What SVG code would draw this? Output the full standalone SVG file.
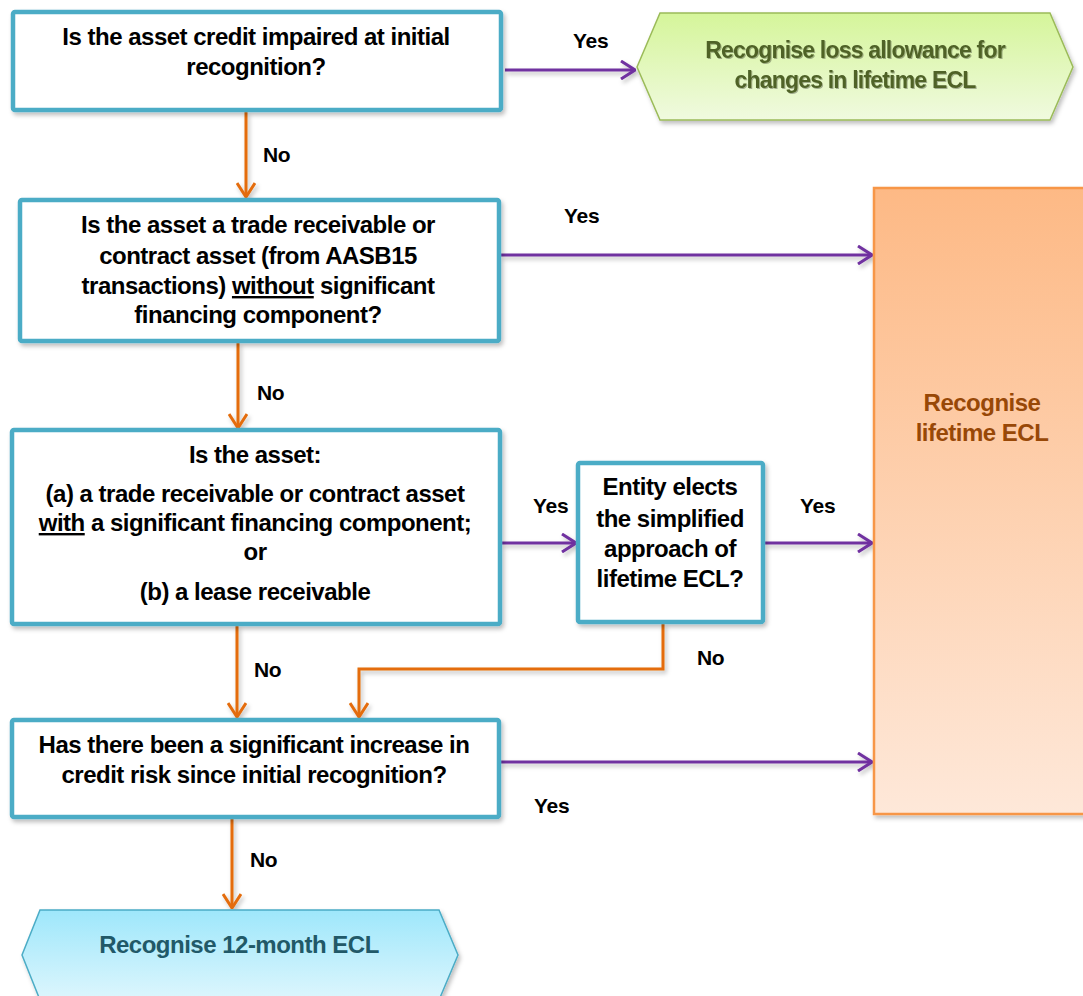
<svg xmlns="http://www.w3.org/2000/svg" width="1083" height="996" viewBox="0 0 1083 996">
<defs>
<style>
.q{fill:#fff;stroke:#4BACC6;stroke-width:4.5}
.t{font-family:"Liberation Sans",Arial,sans-serif;font-weight:bold;font-size:24px;letter-spacing:-0.5px;fill:#000;text-anchor:middle}
.g{font-size:23px;letter-spacing:-0.8px;fill:#4F6228}
.l{font-family:"Liberation Sans",Arial,sans-serif;font-weight:bold;font-size:21px;letter-spacing:-0.3px;fill:#000}
.y{fill:none;stroke:#7030A0;stroke-width:3}
.n{fill:none;stroke:#E46C0A;stroke-width:3}
</style>
<marker id="ap" viewBox="0 0 16 20" refX="15" refY="10" markerWidth="16" markerHeight="20" markerUnits="userSpaceOnUse" orient="auto"><path d="M1,1 L15,10 L1,19" fill="none" stroke="#7030A0" stroke-width="3"/></marker>
<marker id="ao" viewBox="0 0 16 20" refX="15" refY="10" markerWidth="16" markerHeight="20" markerUnits="userSpaceOnUse" orient="auto"><path d="M1,1 L15,10 L1,19" fill="none" stroke="#E46C0A" stroke-width="3"/></marker>
<filter id="sh" x="-10%" y="-10%" width="130%" height="130%"><feDropShadow dx="2" dy="3" stdDeviation="2" flood-color="#000" flood-opacity="0.25"/></filter>
<filter id="ts" x="-5%" y="-20%" width="110%" height="150%"><feDropShadow dx="1" dy="1" stdDeviation="0.6" flood-color="#000" flood-opacity="0.3"/></filter>
<linearGradient id="gO" x1="0" y1="0" x2="0" y2="1"><stop offset="0" stop-color="#FDB985"/><stop offset="1" stop-color="#FEE8D9"/></linearGradient>
<linearGradient id="gG" x1="0" y1="0" x2="0" y2="1"><stop offset="0" stop-color="#D5F59A"/><stop offset="1" stop-color="#F0FADF"/></linearGradient>
<linearGradient id="gB" x1="0" y1="0" x2="0" y2="1"><stop offset="0" stop-color="#9EE7FB"/><stop offset="1" stop-color="#DDF6FD"/></linearGradient>
</defs>

<g id="connectors" filter="url(#sh)">
<path class="y" d="M505,70 H635" marker-end="url(#ap)"/>
<path class="n" d="M246,112 V197" marker-end="url(#ao)"/>
<path class="y" d="M501,255 H872" marker-end="url(#ap)"/>
<path class="n" d="M238,343 V428" marker-end="url(#ao)"/>
<path class="y" d="M502,543 H576" marker-end="url(#ap)"/>
<path class="y" d="M765,543 H872" marker-end="url(#ap)"/>
<path class="n" d="M237,626 V717" marker-end="url(#ao)"/>
<path class="n" d="M663,624 V669 H359 V717" marker-end="url(#ao)"/>
<path class="y" d="M501,762 H872" marker-end="url(#ap)"/>
<path class="n" d="M232,819 V908" marker-end="url(#ao)"/>
</g>
<g id="labels">
<text class="l" x="573" y="48">Yes</text>
<text class="l" x="263" y="162">No</text>
<text class="l" x="564" y="223">Yes</text>
<text class="l" x="257" y="400">No</text>
<text class="l" x="533" y="513">Yes</text>
<text class="l" x="800" y="513">Yes</text>
<text class="l" x="254" y="677">No</text>
<text class="l" x="697" y="665">No</text>
<text class="l" x="534" y="813">Yes</text>
<text class="l" x="250" y="867">No</text>
</g>

<g id="q1">
<rect class="q" x="13" y="12" width="488" height="98" rx="2" filter="url(#sh)"/>
<text class="t" x="256" y="45">Is the asset credit impaired at initial</text>
<text class="t" x="256" y="75">recognition?</text>
</g>

<g id="q2">
<rect class="q" x="20" y="200" width="479" height="141" rx="2" filter="url(#sh)"/>
<text class="t" x="258" y="233">Is the asset a trade receivable or</text>
<text class="t" x="258" y="264">contract asset (from AASB15</text>
<text class="t" x="258" y="294">transactions) <tspan text-decoration="underline">without</tspan> significant</text>
<text class="t" x="258" y="323">financing component?</text>
</g>

<g id="q3">
<rect class="q" x="12" y="430" width="488" height="194" rx="2" filter="url(#sh)"/>
<text class="t" x="255" y="463">Is the asset:</text>
<text class="t" x="255" y="502">(a) a trade receivable or contract asset</text>
<text class="t" x="255" y="531"><tspan text-decoration="underline">with</tspan> a significant financing component;</text>
<text class="t" x="255" y="560">or</text>
<text class="t" x="255" y="600">(b) a lease receivable</text>
</g>

<g id="q4">
<rect class="q" x="578" y="463" width="185" height="159" rx="2" filter="url(#sh)"/>
<text class="t" x="670" y="495">Entity elects</text>
<text class="t" x="670" y="527">the simplified</text>
<text class="t" x="670" y="557">approach of</text>
<text class="t" x="670" y="587">lifetime ECL?</text>
</g>

<g id="q5">
<rect class="q" x="12" y="720" width="487" height="97" rx="2" filter="url(#sh)"/>
<text class="t" x="254" y="753">Has there been a significant increase in</text>
<text class="t" x="254" y="783">credit risk since initial recognition?</text>
</g>

<g id="lifetime">
<rect x="874" y="188" width="215" height="626" fill="url(#gO)" stroke="#F79646" stroke-width="2.5" filter="url(#sh)"/>
<text class="t" x="982" y="411" style="fill:#984807">Recognise</text>
<text class="t" x="982" y="441" style="fill:#984807">lifetime ECL</text>
</g>

<g id="green">
<polygon points="637,67 660,13 1050,13 1073,67 1050,120 660,120" fill="url(#gG)" stroke="#9BBB59" stroke-width="1.5" filter="url(#sh)"/>
<text class="t g" x="855" y="58" filter="url(#ts)">Recognise loss allowance for</text>
<text class="t g" x="855" y="88" filter="url(#ts)">changes in lifetime ECL</text>
</g>

<g id="blue">
<polygon points="22,955 40,910 439,910 458,955 439,1000 40,1000" fill="url(#gB)" stroke="#4BACC6" stroke-width="1.5" filter="url(#sh)"/>
<text class="t" x="239" y="953" style="fill:#215968">Recognise 12-month ECL</text>
</g>
</svg>
